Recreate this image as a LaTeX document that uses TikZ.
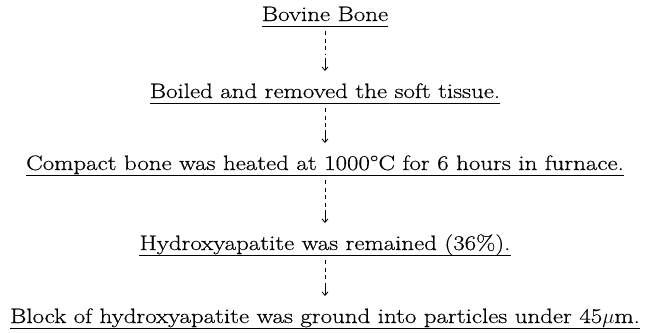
\documentclass[tikz,border=0pt]{standalone}
\usepackage{fontspec}
\setmainfont{Latin Modern Roman}[FakeStretch=1.19,FakeBold=0.4]
\usetikzlibrary{arrows.meta,calc}
\tikzset{
  stage/.style={inner sep=0pt, anchor=base, font=\fontsize{21}{25}\selectfont},
  uline/.style={line width=0.9bp},
  dashpart/.style={line width=0.8bp, dash pattern=on 4bp off 3.5bp},
  headpart/.style={line width=0.8bp, -{Straight Barb[length=3.5bp,width=6bp]}}
}
\begin{document}
\begin{tikzpicture}[x=1bp,y=-1bp]
\fill[white] (0,0) rectangle (645,332);
\useasboundingbox (0,0) rectangle (645,332);
\node[stage] (s1) at (325,21) {Bovine Bone};
\node[stage] (s2) at (325,98) {Boiled and removed the soft tissue.};
\node[stage] (s3) at (325,170) {Compact bone was heated at 1000°C for 6 hours in furnace.};
\node[stage] (s4) at (325,250) {Hydroxyapatite was remained (36\%).};
\node[stage] (s5) at (325,323) {Block of hydroxyapatite was ground into particles under 45$\mu$m.};
\foreach \n in {s1,s2,s3,s4,s5}{
  \draw[uline] ($(\n.base west)+(0,5)$) -- ($(\n.base east)+(0,5)$);
}
\foreach \a/\b in {s1/s2,s2/s3,s3/s4,s4/s5}{
  \draw[dashpart] ($(\a.base)+(0,10)$) -- ($(\b.base)+(0,-43)$);
  \draw[headpart] ($(\b.base)+(0,-40)$) -- ($(\b.base)+(0,-27)$);
}
\end{tikzpicture}
\end{document}
